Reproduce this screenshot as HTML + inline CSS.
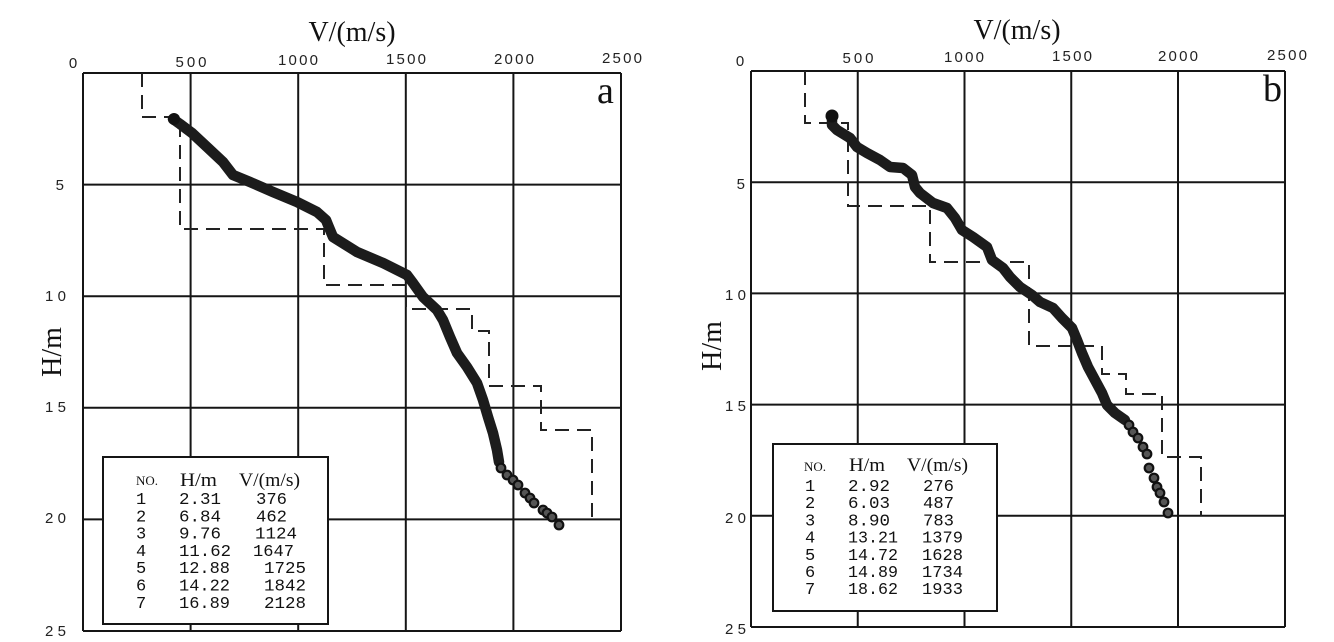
<!DOCTYPE html>
<html>
<head>
<meta charset="utf-8">
<style>
html,body{margin:0;padding:0;background:#fff;}
svg{display:block;}
.tk{font-family:"Liberation Sans",sans-serif;font-size:15px;fill:#222;}
.ttl{font-family:"Liberation Serif",serif;font-size:28px;fill:#111;}
.lg{font-family:"Liberation Mono",monospace;font-size:17px;fill:#111;}
.lh{font-family:"Liberation Serif",serif;font-size:19px;fill:#111;}
.no{font-family:"Liberation Serif",serif;font-size:13px;fill:#111;}
</style>
</head>
<body>
<svg width="1334" height="642" viewBox="0 0 1334 642" xmlns="http://www.w3.org/2000/svg">
<rect x="0" y="0" width="1334" height="642" fill="#fff"/>

<!-- ===== LEFT PANEL (a) ===== -->
<g stroke="#151515" stroke-width="2" fill="none">
  <line x1="83" y1="73" x2="83" y2="631"/>
  <line x1="190.6" y1="73" x2="190.6" y2="631"/>
  <line x1="298.2" y1="73" x2="298.2" y2="631"/>
  <line x1="405.8" y1="73" x2="405.8" y2="631"/>
  <line x1="513.4" y1="73" x2="513.4" y2="631"/>
  <line x1="621" y1="73" x2="621" y2="631"/>
  <line x1="83" y1="73" x2="621" y2="73"/>
  <line x1="83" y1="184.6" x2="621" y2="184.6"/>
  <line x1="83" y1="296.2" x2="621" y2="296.2"/>
  <line x1="83" y1="407.8" x2="621" y2="407.8"/>
  <line x1="83" y1="519.4" x2="621" y2="519.4"/>
  <line x1="83" y1="631" x2="621" y2="631"/>
</g>
<path d="M142,73 V117 H180 V229 H324 V285 H406 V309 H472 V331 H489 V386 H541 V430 H592 V519" fill="none" stroke="#222" stroke-width="2" stroke-dasharray="14 8"/>
<polyline points="173,119 180,124 192,133 207,147 223,162 233,175 250,182 273,192 297,202 317,212 326,220 328,225 333,237 357,252 383,263 407,275 413,283 423,297 437,310 443,320 450,337 457,353 467,367 477,383 483,400 488,417 493,433 497,450 499,462" fill="none" stroke="#1c1c1c" stroke-width="10.5" stroke-linejoin="round" stroke-linecap="round"/>
<circle cx="174" cy="119" r="6" fill="#111"/>
<g fill="#555" stroke="#111" stroke-width="2.2">
  <circle cx="501" cy="468" r="4.3"/>
  <circle cx="507" cy="475" r="4.3"/>
  <circle cx="513" cy="480" r="4.3"/>
  <circle cx="518" cy="485" r="4.3"/>
  <circle cx="525" cy="493" r="4.3"/>
  <circle cx="530" cy="498" r="4.3"/>
  <circle cx="534" cy="503" r="4.3"/>
  <circle cx="543" cy="510" r="4.3"/>
  <circle cx="547" cy="513" r="4.3"/>
  <circle cx="552" cy="517" r="4.3"/>
  <circle cx="559" cy="525" r="4.3"/>
</g>
<!-- legend a -->
<rect x="103" y="457" width="225" height="167" fill="#fff" stroke="#151515" stroke-width="2"/>
<text class="no" x="136" y="485">NO.</text>
<text class="lh" x="180" y="486" textLength="37" lengthAdjust="spacingAndGlyphs">H/m</text>
<text class="lh" x="239" y="486" textLength="61" lengthAdjust="spacingAndGlyphs">V/(m/s)</text>
<g class="lg">
  <text x="136" y="504">1</text>
  <text x="136" y="521.3">2</text>
  <text x="136" y="538.6">3</text>
  <text x="136" y="555.9">4</text>
  <text x="136" y="573.2">5</text>
  <text x="136" y="590.5">6</text>
  <text x="136" y="607.8">7</text>
  <text x="179" y="504" textLength="42" lengthAdjust="spacingAndGlyphs">2.31</text>
  <text x="179" y="521.3" textLength="42" lengthAdjust="spacingAndGlyphs">6.84</text>
  <text x="179" y="538.6" textLength="42" lengthAdjust="spacingAndGlyphs">9.76</text>
  <text x="179" y="555.9" textLength="52" lengthAdjust="spacingAndGlyphs">11.62</text>
  <text x="179" y="573.2" textLength="51" lengthAdjust="spacingAndGlyphs">12.88</text>
  <text x="179" y="590.5" textLength="51" lengthAdjust="spacingAndGlyphs">14.22</text>
  <text x="179" y="607.8" textLength="51" lengthAdjust="spacingAndGlyphs">16.89</text>
  <text x="256" y="504" textLength="31" lengthAdjust="spacingAndGlyphs">376</text>
  <text x="256" y="521.3" textLength="31" lengthAdjust="spacingAndGlyphs">462</text>
  <text x="255" y="538.6" textLength="42" lengthAdjust="spacingAndGlyphs">1124</text>
  <text x="253" y="555.9" textLength="41" lengthAdjust="spacingAndGlyphs">1647</text>
  <text x="264" y="573.2" textLength="42" lengthAdjust="spacingAndGlyphs">1725</text>
  <text x="264" y="590.5" textLength="42" lengthAdjust="spacingAndGlyphs">1842</text>
  <text x="264" y="607.8" textLength="42" lengthAdjust="spacingAndGlyphs">2128</text>
</g>
<!-- ticks a -->
<g class="tk" text-anchor="middle">
  <text x="73" y="68">0</text>
  <text x="191" y="67" textLength="31">500</text>
  <text x="298" y="65" textLength="40">1000</text>
  <text x="406" y="64" textLength="40">1500</text>
  <text x="514" y="64" textLength="40">2000</text>
  <text x="622" y="63" textLength="40">2500</text>
</g>
<g class="tk" text-anchor="end">
  <text x="64" y="190">5</text>
  <text x="66" y="301" textLength="21">10</text>
  <text x="66" y="412" textLength="21">15</text>
  <text x="66" y="523" textLength="21">20</text>
  <text x="66" y="636" textLength="21">25</text>
</g>
<text class="ttl" x="352" y="41" text-anchor="middle">V/(m/s)</text>
<text class="ttl" transform="translate(61,352) rotate(-90)" text-anchor="middle">H/m</text>
<text x="597" y="103" font-family="Liberation Serif, serif" font-size="38" fill="#111">a</text>

<!-- ===== RIGHT PANEL (b) ===== -->
<g stroke="#151515" stroke-width="2" fill="none">
  <line x1="751" y1="71" x2="751" y2="627"/>
  <line x1="857.75" y1="71" x2="857.75" y2="627"/>
  <line x1="964.5" y1="71" x2="964.5" y2="627"/>
  <line x1="1071.25" y1="71" x2="1071.25" y2="627"/>
  <line x1="1178" y1="71" x2="1178" y2="627"/>
  <line x1="1285" y1="71" x2="1285" y2="627"/>
  <line x1="751" y1="71" x2="1285" y2="71"/>
  <line x1="751" y1="182.2" x2="1285" y2="182.2"/>
  <line x1="751" y1="293.4" x2="1285" y2="293.4"/>
  <line x1="751" y1="404.6" x2="1285" y2="404.6"/>
  <line x1="751" y1="515.8" x2="1285" y2="515.8"/>
  <line x1="751" y1="627" x2="1285" y2="627"/>
</g>
<path d="M805,71 V123 H848 V206 H930 V262 H1029 V346 H1102 V374 H1126 V394 H1162 V457 H1201 V516" fill="none" stroke="#222" stroke-width="2" stroke-dasharray="14 8"/>
<polyline points="832,117 832,125 837,130 850,138 857,147 867,153 880,160 890,167 903,168 912,175 915,187 920,193 933,203 947,208 955,218 962,230 973,237 987,247 992,260 1003,268 1010,277 1020,287 1032,295 1040,302 1053,308 1062,318 1072,328 1077,340 1082,353 1088,367 1095,380 1102,393 1107,405 1115,413 1125,420" fill="none" stroke="#1c1c1c" stroke-width="10.5" stroke-linejoin="round" stroke-linecap="round"/>
<circle cx="832" cy="116" r="6.5" fill="#111"/>
<g fill="#555" stroke="#111" stroke-width="2.2">
  <circle cx="1129" cy="425" r="4.3"/>
  <circle cx="1133" cy="432" r="4.3"/>
  <circle cx="1138" cy="438" r="4.3"/>
  <circle cx="1143" cy="447" r="4.3"/>
  <circle cx="1147" cy="454" r="4.3"/>
  <circle cx="1149" cy="468" r="4.3"/>
  <circle cx="1154" cy="478" r="4.3"/>
  <circle cx="1157" cy="487" r="4.3"/>
  <circle cx="1160" cy="493" r="4.3"/>
  <circle cx="1164" cy="502" r="4.3"/>
  <circle cx="1168" cy="513" r="4.3"/>
</g>
<!-- legend b -->
<rect x="773" y="444" width="224" height="167" fill="#fff" stroke="#151515" stroke-width="2"/>
<text class="no" x="804" y="471">NO.</text>
<text class="lh" x="849" y="471" textLength="36" lengthAdjust="spacingAndGlyphs">H/m</text>
<text class="lh" x="907" y="471" textLength="61" lengthAdjust="spacingAndGlyphs">V/(m/s)</text>
<g class="lg">
  <text x="805" y="491">1</text>
  <text x="805" y="508.2">2</text>
  <text x="805" y="525.4">3</text>
  <text x="805" y="542.6">4</text>
  <text x="805" y="559.8">5</text>
  <text x="805" y="577">6</text>
  <text x="805" y="594.2">7</text>
  <text x="848" y="491" textLength="42" lengthAdjust="spacingAndGlyphs">2.92</text>
  <text x="848" y="508.2" textLength="42" lengthAdjust="spacingAndGlyphs">6.03</text>
  <text x="848" y="525.4" textLength="42" lengthAdjust="spacingAndGlyphs">8.90</text>
  <text x="848" y="542.6" textLength="50" lengthAdjust="spacingAndGlyphs">13.21</text>
  <text x="848" y="559.8" textLength="50" lengthAdjust="spacingAndGlyphs">14.72</text>
  <text x="848" y="577" textLength="50" lengthAdjust="spacingAndGlyphs">14.89</text>
  <text x="848" y="594.2" textLength="50" lengthAdjust="spacingAndGlyphs">18.62</text>
  <text x="923" y="491" textLength="31" lengthAdjust="spacingAndGlyphs">276</text>
  <text x="923" y="508.2" textLength="31" lengthAdjust="spacingAndGlyphs">487</text>
  <text x="923" y="525.4" textLength="31" lengthAdjust="spacingAndGlyphs">783</text>
  <text x="922" y="542.6" textLength="41" lengthAdjust="spacingAndGlyphs">1379</text>
  <text x="922" y="559.8" textLength="41" lengthAdjust="spacingAndGlyphs">1628</text>
  <text x="922" y="577" textLength="41" lengthAdjust="spacingAndGlyphs">1734</text>
  <text x="922" y="594.2" textLength="41" lengthAdjust="spacingAndGlyphs">1933</text>
</g>
<!-- ticks b -->
<g class="tk" text-anchor="middle">
  <text x="740" y="66">0</text>
  <text x="858" y="63" textLength="31">500</text>
  <text x="964" y="62" textLength="40">1000</text>
  <text x="1072" y="61" textLength="40">1500</text>
  <text x="1178" y="61" textLength="40">2000</text>
  <text x="1287" y="60" textLength="40">2500</text>
</g>
<g class="tk" text-anchor="end">
  <text x="745" y="189">5</text>
  <text x="746" y="300" textLength="21">10</text>
  <text x="746" y="411" textLength="21">15</text>
  <text x="746" y="523" textLength="21">20</text>
  <text x="746" y="634" textLength="21">25</text>
</g>
<text class="ttl" x="1017" y="39" text-anchor="middle">V/(m/s)</text>
<text class="ttl" transform="translate(721,346) rotate(-90)" text-anchor="middle">H/m</text>
<text x="1263" y="101" font-family="Liberation Serif, serif" font-size="38" fill="#111">b</text>
</svg>
</body>
</html>
